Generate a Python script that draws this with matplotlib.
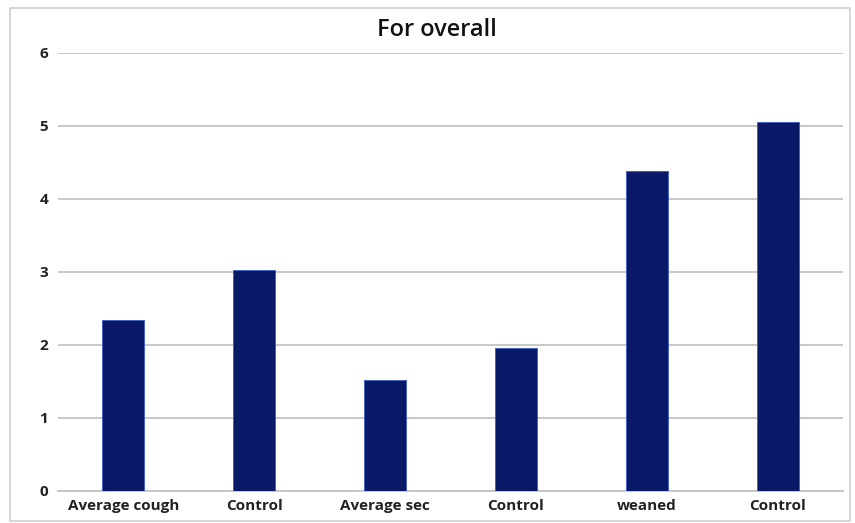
import matplotlib.pyplot as plt
from matplotlib.patches import Rectangle

categories = ["Average cough", "Control", "Average sec", "Control", "weaned", "Control"]
values = [2.34, 3.03, 1.52, 1.96, 4.38, 5.06]
yticks = [0, 1, 2, 3, 4, 5, 6]

plt.rcParams["font.family"] = ["Open Sans", "DejaVu Sans"]

fig = plt.figure(figsize=(8.55, 5.23), dpi=100)
ax = fig.add_axes([0.0678, 0.0618, 0.9182, 0.8369])

# light frame round the whole chart
fig.patches.append(Rectangle((10 / 855, 0.003), 840 / 855, 1 - 8 / 523 - 0.003,
                             transform=fig.transFigure, fill=False,
                             edgecolor="#d0d0d0", linewidth=1.2))

x = range(len(categories))
ax.bar(x, values, width=0.32, color="#0a1868", edgecolor="#3a5bc7", linewidth=0.6, zorder=3)

ax.set_xlim(-0.5, len(categories) - 0.5)
ax.set_ylim(0, 6)
ax.set_yticks(yticks)
ax.set_xticks(list(x))
ax.set_xticklabels(categories)
ax.grid(axis="y", color="#c4c4c4", linewidth=1.3, zorder=0)
ax.axhline(0, color="#c4c4c4", linewidth=1.3, zorder=1, clip_on=False)
for s in ax.spines.values():
    s.set_visible(False)
ax.tick_params(length=0, labelsize=11, pad=7)
for lab in ax.get_xticklabels() + ax.get_yticklabels():
    lab.set_fontweight("bold")
    lab.set_color("#222222")
ax.tick_params(axis="x", pad=6)

fig.text(0.511, 0.943, "For overall", ha="center", va="center", fontsize=17, fontweight="semibold", color="#111111")

fig.savefig("out.png", dpi=100)
